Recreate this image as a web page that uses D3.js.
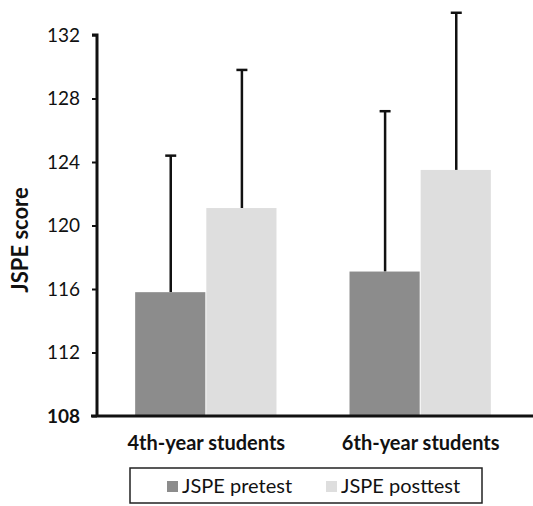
<!DOCTYPE html>
<html>
<head>
<meta charset="utf-8">
<script src="https://cdn.jsdelivr.net/npm/d3@7/dist/d3.min.js"></script>
<style>
  body { margin: 0; background: #fff; }
  svg { display: block; font-family: Lato, "Open Sans", sans-serif; }
</style>
</head>
<body>
<svg id="chart" width="533" height="506"></svg>
<script>
const categories = ["4th-year students", "6th-year students"];
const seriesNames = ["JSPE pretest", "JSPE posttest"];
const pretestMean = [115.8, 117.1];
const pretestUpper = [124.4, 127.2];
const posttestMean = [121.1, 123.5];
const posttestUpper = [129.8, 133.4];
const yTicks = [108, 112, 116, 120, 124, 128, 132];
const colors = ["#8c8c8c", "#dedede"];

const svg = d3.select("#chart");
const y = d3.scaleLinear().domain([108, 132]).range([416, 35]);
const x0 = d3.scaleBand().domain(categories).range([97, 530]).paddingInner(0.336).paddingOuter(0.178);
const x1 = d3.scaleBand().domain(seriesNames).range([0, x0.bandwidth()]).padding(0.0);

const data = categories.map((c, i) => ({
  cat: c,
  vals: [
    { s: seriesNames[0], mean: pretestMean[i], up: pretestUpper[i] },
    { s: seriesNames[1], mean: posttestMean[i], up: posttestUpper[i] }
  ]
}));

const g = svg.append("g");
const groups = g.selectAll("g.cat").data(data).join("g")
  .attr("transform", d => `translate(${x0(d.cat)},0)`);

groups.selectAll("line.err").data(d => d.vals).join("line")
  .attr("x1", d => x1(d.s) + x1.bandwidth() / 2)
  .attr("x2", d => x1(d.s) + x1.bandwidth() / 2)
  .attr("y1", d => y(d.mean))
  .attr("y2", d => y(d.up))
  .attr("stroke", "#111").attr("stroke-width", 2.5);
groups.selectAll("line.cap").data(d => d.vals).join("line")
  .attr("x1", d => x1(d.s) + x1.bandwidth() / 2 - 5.5)
  .attr("x2", d => x1(d.s) + x1.bandwidth() / 2 + 5.5)
  .attr("y1", d => y(d.up))
  .attr("y2", d => y(d.up))
  .attr("stroke", "#111").attr("stroke-width", 2.5);

groups.selectAll("rect").data(d => d.vals).join("rect")
  .attr("x", d => x1(d.s))
  .attr("width", x1.bandwidth() - 1)
  .attr("y", d => y(d.mean))
  .attr("height", d => y(108) - y(d.mean))
  .attr("fill", (d, i) => colors[i]);

// Y axis
const yAxis = d3.axisLeft(y).tickValues(yTicks).tickSize(5).tickPadding(12).tickFormat(d3.format("d"));
const ya = svg.append("g").attr("transform", "translate(97,0)").call(yAxis);
ya.attr("font-size", null).attr("font-family", null);
ya.select(".domain").attr("stroke", "#111").attr("stroke-width", 3).attr("d", `M-5,${y(132)}H0V${y(108)}`);
ya.selectAll(".tick line").attr("stroke", "#111").attr("stroke-width", 2);
ya.selectAll(".tick text").style("font-size", "19px").attr("fill", "#111")
  .attr("font-weight", d => d === 108 ? "bold" : "normal");

// X axis
const xAxis = d3.axisBottom(x0).tickSize(0).tickPadding(20);
const xa = svg.append("g").attr("transform", `translate(0,${y(108)})`).call(xAxis);
xa.attr("font-size", null).attr("font-family", null);
xa.select(".domain").attr("stroke", "#111").attr("stroke-width", 3).attr("d", "M91,0H533");
xa.selectAll(".tick text").style("font-size", "20px").attr("font-weight", "bold").attr("fill", "#111");

// Y label
svg.append("text")
  .attr("transform", "translate(28,240) rotate(-90)")
  .attr("text-anchor", "middle")
  .style("font-size", "22px").attr("font-weight", "bold").attr("fill", "#111")
  .text("JSPE score");

// Legend
const leg = svg.append("g");
leg.append("rect").attr("x", 130).attr("y", 468).attr("width", 352).attr("height", 35)
  .attr("fill", "none").attr("stroke", "#222").attr("stroke-width", 1.5);
const legX = [167, 326];
seriesNames.forEach((s, i) => {
  leg.append("rect").attr("x", legX[i]).attr("y", 481).attr("width", 11).attr("height", 11).attr("fill", colors[i]);
  leg.append("text").attr("x", legX[i] + 15).attr("y", 493).style("font-size", "20px").attr("fill", "#111").text(s);
});
</script>
</body>
</html>
